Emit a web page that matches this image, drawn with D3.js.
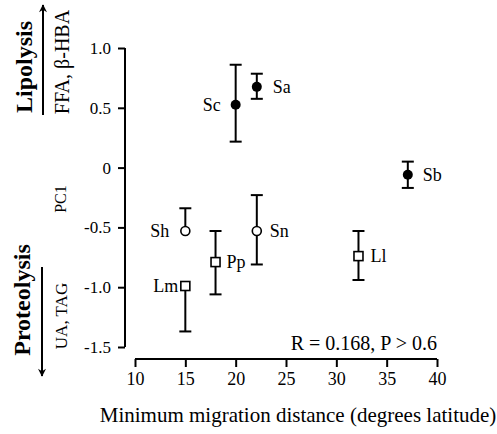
<!DOCTYPE html>
<html>
<head>
<meta charset="utf-8">
<script src="https://cdn.jsdelivr.net/npm/d3@7"></script>
<style>
  body { margin: 0; background: #fff; }
  svg text { font-family: "Liberation Serif", "Times New Roman", serif; fill: #000; }
</style>
</head>
<body>
<div id="canvas"></div>
<script>
// species, x = min migration distance, y = PC1 mean with error bar ends
var species  = ["Sa", "Sc", "Sb", "Sh", "Sn", "Pp", "Lm", "Ll"];
var distance = [22.1, 20.0, 37.1, 15.0, 22.1, 18.0, 15.0, 32.2];
var pc1      = [0.675, 0.525, -0.06, -0.53, -0.53, -0.79, -0.99, -0.74];
var errTop   = [0.785, 0.86, 0.05, -0.34, -0.23, -0.53, null, -0.53];
var errBot   = [0.575, 0.217, -0.17, null, -0.81, -1.06, -1.37, -0.94];
var symbol   = ["dot", "dot", "dot", "ring", "ring", "box", "box", "box"];

var xTicks = [10, 15, 20, 25, 30, 35, 40];
var yTicks = [1.0, 0.5, 0, -0.5, -1.0, -1.5];
var yTickLabels = ["1.0", "0.5", "0", "-0.5", "-1.0", "-1.5"];

// label placement (dx from point)
var labelDx = {Sa: 16, Sc: -15, Sb: 15, Sh: -16, Sn: 13, Pp: 11, Lm: -7, Ll: 12};

var serif = "'Liberation Serif', 'Times New Roman', serif";
var width = 497, height = 434;

var svg = d3.select("#canvas").append("svg")
  .attr("width", width)
  .attr("height", height);

var x = d3.scaleLinear().domain([10, 40]).range([135, 437]);
var y = d3.scaleLinear().domain([-1.5, 1.0]).range([347, 48]);

// y axis (detached, left)
var yAxis = svg.append("g")
  .attr("transform", "translate(125,0)")
  .call(d3.axisLeft(y).tickValues(yTicks).tickSize(7).tickPadding(7)
    .tickFormat(function(d, i) { return yTickLabels[i]; }));
yAxis.attr("font-family", serif).attr("font-size", 17);
yAxis.select(".domain").attr("d", "M0," + y(1.0) + "V" + y(-1.5)).attr("stroke-width", 2);
yAxis.selectAll(".tick line").attr("stroke-width", 2);
yAxis.selectAll(".tick text").style("font-family", serif).style("font-size", "17px");

// x axis (detached, bottom)
var xAxis = svg.append("g")
  .attr("transform", "translate(0,359)")
  .call(d3.axisBottom(x).tickValues(xTicks).tickSize(8).tickPadding(5));
xAxis.attr("font-family", serif).attr("font-size", 18);
xAxis.select(".domain").attr("d", "M" + x(10) + ",0H" + x(40)).attr("stroke-width", 2);
xAxis.selectAll(".tick line").attr("stroke-width", 2);
xAxis.selectAll(".tick text").style("font-family", serif).style("font-size", "18px");

var pts = species.map(function(s, i) {
  return {name: s, x: distance[i], y: pc1[i], top: errTop[i], bot: errBot[i], sym: symbol[i]};
});

// error bars
var bars = svg.append("g").attr("stroke", "#000").attr("stroke-width", 2);
pts.forEach(function(d) {
  var cx = x(d.x);
  [d.top, d.bot].forEach(function(e) {
    if (e === null) return;
    bars.append("line").attr("x1", cx).attr("x2", cx).attr("y1", y(d.y)).attr("y2", y(e));
    bars.append("line").attr("x1", cx - 6).attr("x2", cx + 6).attr("y1", y(e)).attr("y2", y(e));
  });
});

// markers
var marks = svg.append("g");
pts.forEach(function(d) {
  var cx = x(d.x), cy = y(d.y);
  if (d.sym === "dot") {
    marks.append("circle").attr("cx", cx).attr("cy", cy).attr("r", 5).attr("fill", "#000");
  } else if (d.sym === "ring") {
    marks.append("circle").attr("cx", cx).attr("cy", cy).attr("r", 4.5)
      .attr("fill", "#fff").attr("stroke", "#000").attr("stroke-width", 1.6);
  } else {
    marks.append("rect").attr("x", cx - 4.5).attr("y", cy - 4.5).attr("width", 9).attr("height", 9)
      .attr("fill", "#fff").attr("stroke", "#000").attr("stroke-width", 1.6);
  }
});

// point labels
svg.append("g").selectAll("text")
  .data(pts)
  .enter().append("text")
  .attr("x", function(d) { return x(d.x) + labelDx[d.name]; })
  .attr("y", function(d) { return y(d.y); })
  .attr("dy", "0.35em")
  .style("font-family", serif)
  .style("font-size", "18px")
  .attr("text-anchor", function(d) { return labelDx[d.name] < 0 ? "end" : "start"; })
  .text(function(d) { return d.name; });

// stats
svg.append("text")
  .attr("x", 437).attr("y", 350)
  .attr("text-anchor", "end")
  .style("font-size", "20px")
  .text("R = 0.168, P > 0.6");

// x title
svg.append("text")
  .attr("x", 298).attr("y", 422)
  .attr("text-anchor", "middle")
  .style("font-size", "21px")
  .text("Minimum migration distance (degrees latitude)");

// left side labels
function vtext(cx, cy, str, size, bold) {
  svg.append("text")
    .attr("transform", "translate(" + cx + "," + cy + ") rotate(-90)")
    .attr("text-anchor", "middle")
    .attr("dy", "0.35em")
    .style("font-size", size + "px")
    .style("font-weight", bold ? "bold" : "normal")
    .text(str);
}
vtext(24, 67, "Lipolysis", 24, true);
vtext(62, 62, "FFA, \u03B2-HBA", 20, false);
vtext(60, 199, "PC1", 16, false);
vtext(22, 300, "Proteolysis", 24, true);
vtext(61, 316, "UA, TAG", 17, false);

// arrows
var defs = svg.append("defs");
defs.append("marker")
  .attr("id", "head").attr("viewBox", "0 0 10 10")
  .attr("refX", 9).attr("refY", 5)
  .attr("markerWidth", 12).attr("markerHeight", 8)
  .attr("markerUnits", "userSpaceOnUse")
  .attr("orient", "auto")
  .append("path").attr("d", "M0,0 L10,5 L0,10 L3,5 Z").attr("fill", "#000");

svg.append("line").attr("x1", 43).attr("y1", 115).attr("x2", 43).attr("y2", 5)
  .attr("stroke", "#000").attr("stroke-width", 2).attr("marker-end", "url(#head)");
svg.append("line").attr("x1", 42).attr("y1", 267).attr("x2", 42).attr("y2", 376)
  .attr("stroke", "#000").attr("stroke-width", 2).attr("marker-end", "url(#head)");
</script>
</body>
</html>
